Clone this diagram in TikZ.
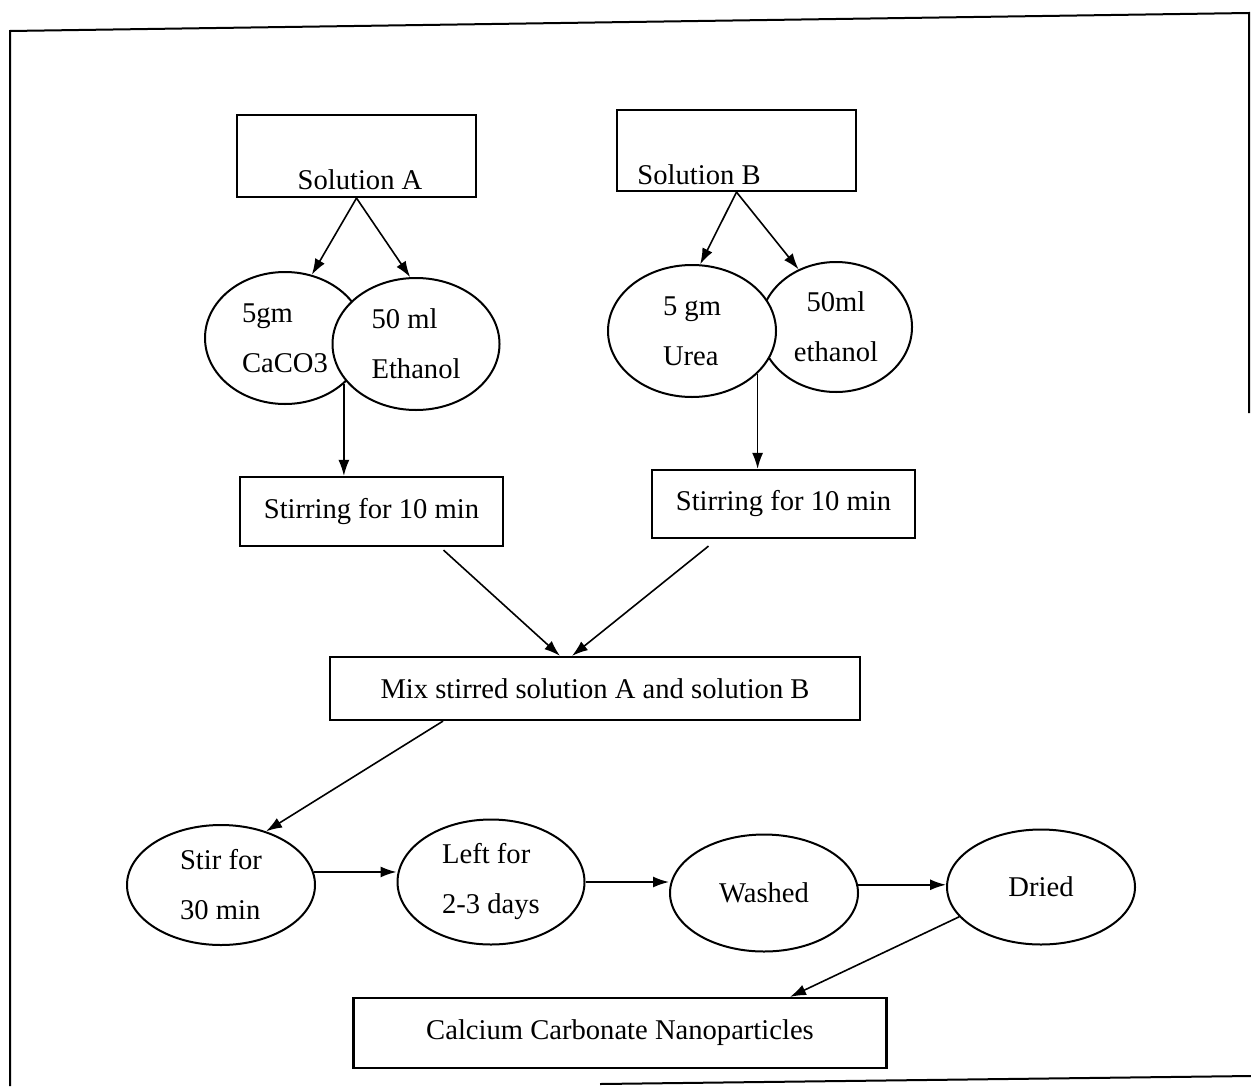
\documentclass[tikz,border=0pt]{standalone}
\usepackage{fontspec}
\setmainfont{Liberation Serif}
\usetikzlibrary{arrows.meta,positioning,calc,shapes.geometric}

\begin{document}
\begin{tikzpicture}[x=0.5pt, y=-0.5pt,
    font=\fontsize{14.3}{25}\selectfont,
    box/.style={draw, line width=1.1pt, inner sep=0pt},
    blob/.style={ellipse, draw, line width=1pt, fill=white, inner sep=0pt,
                 align=left},
    arr/.style={line width=0.8pt, -{Latex[length=8pt,width=5.5pt]}},
    frame/.style={line width=1pt}]
    \useasboundingbox (0,0) rectangle (1251,1086);

    % Outer frame (scanned, slightly tilted)
    \draw[frame] (10,1086) -- (10,31) -- (1249,13) -- (1249,413);
    \draw[frame] (600,1084) -- (1251,1076);

    % Solution boxes
    \node[box, minimum width=119.5pt, minimum height=41pt] (solA) at (356.5,156) {};
    \node (solAtxt) at (360,180) {Solution A};
    \node[box, minimum width=119.5pt, minimum height=40.5pt] (solB) at (736.5,150.5) {};
    \node (solBtxt) at (699,175) {Solution B};

    % Ingredients -- back ellipses first, front ones filled white
    \node[blob, minimum width=80pt, minimum height=66pt] (caco) at (285,338) {5gm\\CaCO3};
    \node[blob, minimum width=83.5pt, minimum height=66pt] (ethA) at (416,344) {50 ml\\Ethanol};
    \node[blob, minimum width=76pt, minimum height=65pt, align=center] (ethB) at (836,327) {50ml\\ethanol};
    \node[blob, minimum width=84pt, minimum height=66pt] (urea) at (692,331) {5 gm\hspace{14pt}\\Urea};

    % Stirring
    \node[box, minimum width=131.5pt, minimum height=34.5pt] (stirA) at (371.5,511.5) {Stirring for 10 min};
    \node[box, minimum width=131.5pt, minimum height=34pt] (stirB) at (783.5,504) {Stirring for 10 min};

    % Mixing
    \node[box, minimum width=265pt, minimum height=31.5pt] (mix) at (595,688.5) {Mix stirred solution A and solution B};

    % Bottom row
    \node[blob, minimum width=94pt, minimum height=60pt] (stir30) at (221,885) {Stir for\\30 min\hspace{6pt}};
    \node[blob, minimum width=93.5pt, minimum height=62.5pt] (left) at (491,882) {Left for\\2-3 days};
    \node[blob, minimum width=94pt, minimum height=58.5pt] (washed) at (764,893) {Washed};
    \node[blob, minimum width=94pt, minimum height=57.5pt] (dried) at (1041,887) {Dried};

    \node[box, minimum width=266.5pt, minimum height=35pt] (caNP) at (620,1033) {Calcium Carbonate Nanoparticles};

    % Connectors
    \draw[arr] (solA.south) -- (caco.67);
    \draw[arr] (solA.south) -- (ethA.95);
    \draw[arr] (solB.south) -- (urea.83);
    \draw[arr] (solB.south) -- (ethB.123);

    \draw[arr] (caco.-38) -- (caco.-38 |- stirA.north);
    \draw[arr] (urea.-33) -- (urea.-33 |- stirB.north);

    \draw[arr] ($(stirA.south)+(72,3)$) -- ($(mix.north)+(-35,0)$);
    \draw[arr] ($(stirB.south)+(-75,7)$) -- ($(mix.north)+(-23,0)$);

    \draw[arr] ($(mix.south)+(-152,0)$) -- (stir30.50);
    \draw[arr] (stir30.8) -- (stir30.8 -| left.west);
    \draw[arr] (left.east) -- (left.east -| washed.west);
    \draw[arr] (washed.5) -- (washed.5 -| dried.west);
    \draw[arr] (dried.200) -- ($(caNP.north)+(170,0)$);
\end{tikzpicture}
\end{document}
